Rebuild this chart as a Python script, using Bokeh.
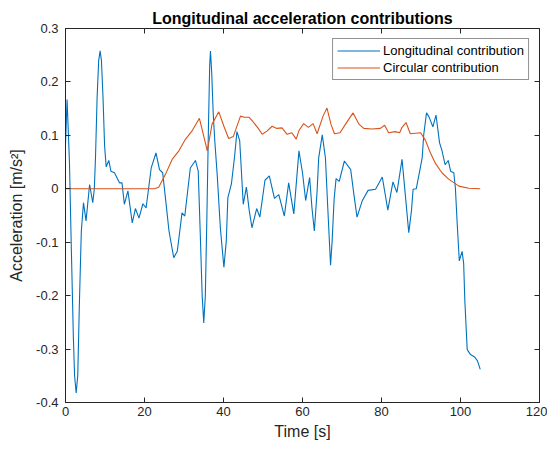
from bokeh.plotting import figure
from bokeh.models import LinearAxis, FixedTicker, Range1d, Legend, LegendItem
from bokeh.embed import file_html
from bokeh.resources import INLINE

# Longitudinal contribution (blue)
long_t = [0.0, 0.4, 1.0, 1.5, 2.0, 2.3, 2.7, 3.1, 3.5, 4.0, 4.55, 5.2, 6.1, 6.9, 7.3, 7.6, 8.0,
          8.4, 8.76, 9.1, 9.5, 9.9, 10.3, 10.96, 11.5, 12.4, 13.7, 14.3, 14.9, 15.8, 16.9,
          17.7, 18.6, 19.6, 20.4, 21.7, 22.9, 23.8, 24.6, 25.3, 26.2, 27.4, 28.3, 29.5,
          30.2, 31.6, 32.9, 33.6, 34.1, 34.6, 35.0, 35.4, 35.8, 36.2, 36.5, 36.7, 37.0,
          37.4, 37.8, 38.4, 39.2, 40.1, 40.7, 41.1, 42.0, 42.8, 43.4, 44.1, 45.0, 45.8,
          46.5, 47.2, 48.4, 49.2, 50.5, 51.6, 52.9, 54.0, 55.4, 56.5, 57.8, 59.1, 60.0,
          60.8, 61.8, 62.4, 63.0, 63.7, 64.1, 65.0, 65.8, 66.4, 67.1, 67.5, 68.0, 68.5,
          69.3, 70.6, 72.2, 73.0, 73.8, 75.1, 76.6, 78.5, 80.2, 81.6, 82.9, 83.9, 85.2,
          86.1, 86.9, 87.6, 88.0, 88.8, 90.3, 90.7, 91.4, 92.0, 93.0, 93.8, 94.7, 95.3,
          96.1, 96.9, 97.5, 98.3, 98.7, 99.2, 99.7, 100.4, 100.8, 101.1, 101.7, 102.5,
          103.6, 104.3, 105.0]
long_a = [0.083, 0.167, 0.05, -0.12, -0.28, -0.35, -0.382, -0.35, -0.22, -0.08, -0.026, -0.060,
          0.008, -0.026, 0.0, 0.06, 0.17, 0.24, 0.258, 0.24, 0.17, 0.08, 0.041, 0.053, 0.033,
          0.030, 0.011, 0.011, -0.029, -0.004, -0.064, -0.037, -0.055, -0.028, -0.036,
          0.039, 0.067, 0.036, 0.030, -0.017, -0.079, -0.129, -0.117, -0.045, -0.051,
          0.039, 0.053, 0.033, -0.08, -0.2, -0.251, -0.2, -0.05, 0.12, 0.23, 0.258, 0.22,
          0.14, 0.089, 0.027, -0.073, -0.147, -0.098, -0.017, 0.009, 0.06, 0.107, 0.09,
          -0.029, 0.003, -0.04, -0.073, -0.037, -0.053, 0.016, 0.024, -0.018, -0.011,
          -0.051, 0.011, -0.047, 0.071, 0.03, -0.022, 0.021, -0.036, -0.079, -0.004, 0.058,
          0.101, 0.058, -0.036, -0.143, -0.098, -0.02, 0.019, 0.014, 0.052, 0.036, -0.01,
          -0.053, -0.023, -0.003, -0.001, 0.022, -0.040, 0.013, -0.007, 0.055, -0.017,
          -0.082, -0.04, -0.001, 0.0, 0.058, 0.102, 0.142, 0.135, 0.116, 0.138, 0.086,
          0.072, 0.045, 0.053, 0.033, 0.030, 0.002, -0.07, -0.135, -0.117, -0.14, -0.21,
          -0.301, -0.310, -0.315, -0.322, -0.338]

# Circular contribution (orange)
circ_t = [0.0, 22.5, 23.6, 25.3, 27.0, 28.7, 30.4, 32.1, 33.9, 35.9, 37.1, 38.8, 40.1, 41.3,
          42.5, 44.3, 45.3, 46.4, 47.2, 48.8, 49.8, 51.0, 52.3, 53.5, 54.8, 56.1, 57.3,
          58.4, 59.1, 60.3, 61.5, 62.7, 63.7, 65.2, 66.2, 67.2, 68.1, 69.5, 70.9, 72.8,
          74.3, 75.5, 77.6, 79.7, 80.8, 81.8, 83.5, 84.6, 85.2, 86.2, 87.3, 89.9, 91.1,
          92.4, 93.7, 95.3, 97.0, 99.6, 102.1, 105.0]
circ_a = [0.0, 0.0, 0.003, 0.027, 0.055, 0.071, 0.093, 0.109, 0.132, 0.071, 0.121, 0.144,
          0.117, 0.094, 0.098, 0.136, 0.134, 0.134, 0.128, 0.113, 0.102, 0.108, 0.117, 0.113,
          0.114, 0.102, 0.105, 0.093, 0.109, 0.122, 0.115, 0.122, 0.103, 0.136, 0.151, 0.121,
          0.103, 0.105, 0.121, 0.142, 0.121, 0.113, 0.112, 0.113, 0.119, 0.105, 0.107, 0.105,
          0.115, 0.124, 0.103, 0.105, 0.091, 0.067, 0.047, 0.030, 0.018, 0.005, 0.001, 0.0]

x_ticks = [0, 20, 40, 60, 80, 100, 120]
y_ticks = [-0.4, -0.3, -0.2, -0.1, 0.0, 0.1, 0.2, 0.3]
y_tick_labels = ["-0.4", "-0.3", "-0.2", "-0.1", "0", "0.1", "0.2", "0.3"]

FONT = "Liberation Sans"
AX = "#262626"

p = figure(frame_width=474, frame_height=374, output_backend="svg", toolbar_location=None,
           x_range=Range1d(0, 120), y_range=Range1d(-0.4, 0.3),
           min_border_left=65, min_border_right=8, min_border_top=28, min_border_bottom=44)
p.title.text = "Longitudinal acceleration contributions"
p.title.align = "center"
p.title.text_font = FONT
p.title.text_font_size = "16px"
p.title.text_font_style = "bold"
p.title.text_color = "black"
p.title.standoff = 4
p.xgrid.visible = False
p.ygrid.visible = False
p.outline_line_color = AX
p.outline_line_width = 1
p.background_fill_color = "white"

r1 = p.line(long_t, long_a, line_color="#0072BD", line_width=1.1)
r2 = p.line(circ_t, circ_a, line_color="#D95319", line_width=1.1)

def style_axis(ax):
    ax.major_tick_in = 5
    ax.major_tick_out = 0
    ax.minor_tick_in = 0
    ax.minor_tick_out = 0
    ax.axis_line_color = AX
    ax.major_tick_line_color = AX
    ax.major_label_text_font = FONT
    ax.major_label_text_font_size = "13px"
    ax.major_label_text_color = AX
    ax.axis_label_text_font = FONT
    ax.axis_label_text_font_size = "16px"
    ax.axis_label_text_font_style = "normal"
    ax.axis_label_text_color = AX

xa = p.xaxis[0]
ya = p.yaxis[0]
style_axis(xa)
style_axis(ya)
xa.ticker = FixedTicker(ticks=x_ticks)
ya.ticker = FixedTicker(ticks=y_ticks)
ya.major_label_overrides = {t: l for t, l in zip(y_ticks, y_tick_labels)}
xa.axis_label = "Time [s]"
ya.axis_label = "Acceleration [m/s²]"
xa.major_label_standoff = 4
ya.major_label_standoff = 7
xa.axis_label_standoff = 4
ya.axis_label_standoff = 8

top = LinearAxis(ticker=FixedTicker(ticks=x_ticks))
right = LinearAxis(ticker=FixedTicker(ticks=y_ticks))
for ax in (top, right):
    style_axis(ax)
    ax.major_label_standoff = 0
top.major_label_overrides = {t: "" for t in x_ticks}
right.major_label_overrides = {t: "" for t in y_ticks}
p.add_layout(top, "above")
p.add_layout(right, "right")

legend = Legend(items=[LegendItem(label="Longitudinal contribution", renderers=[r1]),
                       LegendItem(label="Circular contribution", renderers=[r2])],
                location="top_right")
legend.label_text_font = FONT
legend.label_text_font_size = "13px"
legend.label_text_color = "black"
legend.border_line_color = AX
legend.border_line_width = 1
legend.glyph_width = 43
legend.glyph_height = 15
legend.label_height = 15
legend.spacing = 2
legend.padding = 4
legend.margin = 10
legend.label_standoff = 3
legend.background_fill_alpha = 1
p.add_layout(legend)

open("out.html", "w").write(file_html(p, INLINE))
